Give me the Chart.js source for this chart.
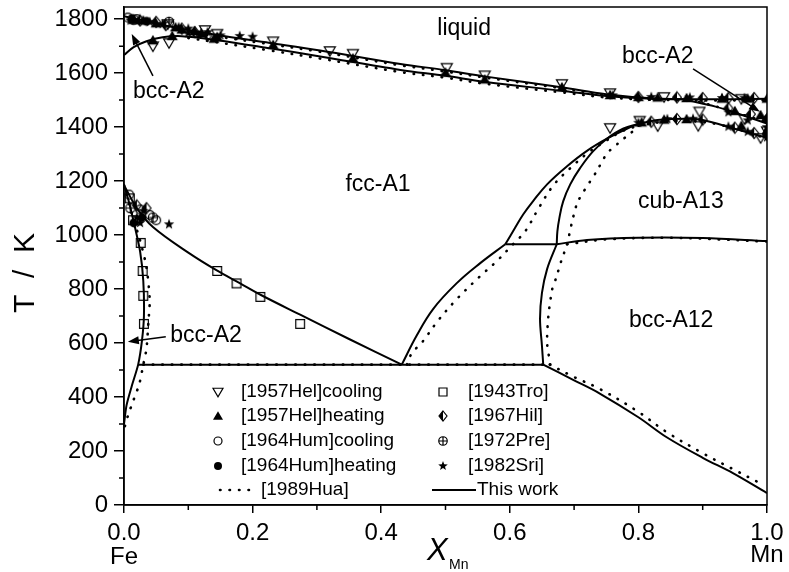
<!DOCTYPE html>
<html>
<head>
<meta charset="utf-8">
<title>Fe-Mn phase diagram</title>
<script src="https://cdn.jsdelivr.net/npm/chart.js"></script>
<style>
  html, body { margin: 0; padding: 0; background: #fff; }
</style>
</head>
<body>
<canvas id="phaseChart" width="789" height="572"></canvas>
<script>
// ---- values: [X_Mn, T / K] ----
const xTicks = [0, 0.2, 0.4, 0.6, 0.8, 1.0];
const xMinor = [0.1, 0.3, 0.5, 0.7, 0.9];
const tTicks = [0, 200, 400, 600, 800, 1000, 1200, 1400, 1600, 1800];
const tMinor = [100, 300, 500, 700, 900, 1100, 1300, 1500, 1700];

// "This work" (solid) boundaries
const liquidus = [[0,1811],[0.02,1800],[0.06,1778],[0.1,1760],[0.145,1741],[0.227,1712],[0.305,1684],[0.43,1634],[0.5,1611],[0.56,1588],[0.68,1548],[0.75,1522],[0.82,1507],[0.9,1503],[1.0,1505]];
const solidus = [[0,1667],[0.015,1696],[0.035,1718],[0.06,1733],[0.09,1737],[0.145,1722],[0.227,1692],[0.305,1662],[0.43,1612],[0.5,1590],[0.56,1568],[0.68,1535],[0.75,1515],[0.82,1505],[0.87,1503]];
const fccBcc = [[0.87,1503],[0.92,1476],[0.96,1446],[1.0,1413]];
const cubTop = [[0.80,1413],[0.834,1427],[0.876,1431],[0.9,1426],[0.947,1396],[1.0,1360]];
const cubLeft = [[0.593,966],[0.608,1026],[0.621,1077],[0.636,1125],[0.658,1188],[0.689,1255],[0.72,1312],[0.751,1357],[0.782,1394],[0.802,1413]];
const cubRight = [[0.673,966],[0.674,1014],[0.677,1062],[0.683,1125],[0.694,1188],[0.709,1247],[0.729,1309],[0.751,1357],[0.776,1394],[0.802,1413]];
const betaAlpha = [[0.673,966],[0.72,982],[0.8,990],[0.9,989],[1.0,978]];
const eutectoidHigh = [[0.593,966],[0.673,966]];
const fccSide = [[0.432,520],[0.455,627],[0.481,727],[0.518,823],[0.554,896],[0.593,966]];
const alphaMnSide = [[0.673,966],[0.658,874],[0.65,786],[0.647,690],[0.65,590],[0.652,520]];
const eutectoidLow = [[0.022,520],[0.652,520]];
const lowerRight = [[0.652,520],[0.70,462],[0.74,413],[0.80,325],[0.844,251],[0.90,175],[0.947,118],[1.0,44]];
const gammaFe = [[0,1185],[0.02,1100],[0.045,1030],[0.1,935],[0.145,868],[0.18,822],[0.213,778],[0.274,705],[0.35,615],[0.432,520]];
const alphaFe = [[0,1185],[0.008,1120],[0.015,1050],[0.025,940],[0.03,830],[0.031,700],[0.028,610],[0.022,520],[0.012,440],[0.004,370],[0,300]];

// [1989Hua] (dotted) boundaries
const huaLiquidus = [[0.1,1755],[0.145,1736],[0.227,1707],[0.305,1679],[0.43,1629],[0.5,1606],[0.56,1584],[0.68,1544],[0.75,1518],[0.82,1503],[0.9,1499],[1.0,1500]];
const huaSolidus = [[0.1,1730],[0.145,1714],[0.227,1684],[0.305,1654],[0.43,1604],[0.5,1583],[0.56,1561],[0.68,1529],[0.75,1510],[0.82,1501]];
const huaFccBcc = [[0.88,1503],[0.93,1470],[0.97,1440],[1.0,1418]];
const huaCubTop = [[0.80,1405],[0.84,1420],[0.88,1424],[0.92,1412],[0.96,1388],[1.0,1357]];
const huaFccSide = [[0.44,520],[0.448,564],[0.463,601],[0.488,682],[0.518,764],[0.554,848],[0.58,904],[0.605,966],[0.624,1014],[0.645,1100],[0.668,1185],[0.695,1250],[0.72,1302],[0.743,1339],[0.775,1385],[0.80,1405]];
const huaMnSide = [[0.663,520],[0.658,601],[0.66,700],[0.666,800],[0.672,841],[0.68,904],[0.689,966],[0.697,1051],[0.706,1125],[0.735,1236],[0.751,1302],[0.768,1339],[0.787,1376],[0.80,1400]];
const huaBetaAlpha = [[0.689,966],[0.75,984],[0.85,990],[1.0,976]];
const huaEutectoid = [[0.03,520],[0.662,520]];
const huaLowerRight = [[0.662,520],[0.70,474],[0.74,430],[0.80,345],[0.844,270],[0.90,192],[0.947,133],[0.986,85]];
const huaAlphaFe = [[0,1185],[0.012,1080],[0.025,980],[0.035,880],[0.04,760],[0.038,680],[0.035,580],[0.03,520],[0.024,450],[0.015,390],[0.006,330],[0,280]];

// experimental points
const hel57Cooling = [[0.068,1782],[0.126,1760],[0.045,1700],[0.07,1712],[0.145,1746],[0.232,1718],[0.32,1682],[0.356,1672],[0.502,1620],[0.561,1592],[0.681,1560],[0.756,1526],[0.756,1397],[0.802,1424],[0.84,1512],[0.895,1458],[0.893,1405],[0.83,1404],[0.96,1505],[0.965,1430],[1.0,1385],[0.99,1360]];
const hel57Heating = [[0.03,1795],[0.015,1798],[0.05,1785],[0.08,1770],[0.09,1762],[0.11,1756],[0.12,1748],[0.14,1728],[0.145,1735],[0.232,1705],[0.356,1655],[0.5,1603],[0.561,1577],[0.681,1548],[0.756,1519],[0.80,1512],[0.83,1510],[0.875,1508],[0.93,1506],[0.97,1506],[1.0,1506],[0.805,1418],[0.84,1428],[0.875,1430],[0.95,1460],[0.96,1405],[0.99,1445],[1.0,1390],[0.045,1722],[0.075,1738]];
const hum64Cooling = [[0.006,1806],[0.02,1800],[0.008,1150],[0.025,1095],[0.04,1075],[0.05,1055]];
const hum64Heating = [[0.012,1802],[0.035,1792],[0.015,1045],[0.028,1065]];
const tro43 = [[0.009,1136],[0.014,1055],[0.026,971],[0.029,867],[0.03,775],[0.031,671],[0.145,867],[0.175,821],[0.212,771],[0.274,671]];
const hil67 = [[0.02,1110],[0.035,1100],[0.025,1795],[0.05,1790],[0.065,1778],[0.09,1765],[0.11,1752],[0.13,1740],[0.8,1512],[0.86,1510],[0.9,1508],[0.94,1508],[0.98,1508],[0.82,1420],[0.86,1430],[0.9,1428],[0.95,1398],[0.98,1378],[1.0,1372],[0.94,1470],[0.975,1448],[1.0,1430]];
const pre72 = [[0.01,1100],[0.045,1065],[0.07,1790],[0.015,1798]];
const sri82 = [[0.02,1065],[0.03,1090],[0.07,1040],[0.025,1045],[0.01,1795],[0.04,1790],[0.06,1782],[0.085,1770],[0.1,1765],[0.13,1752],[0.1,1748],[0.15,1740],[0.18,1738],[0.2,1735],[0.76,1518],[0.82,1512],[0.88,1510],[0.93,1508],[0.965,1508],[0.8,1416],[0.845,1430],[0.885,1431],[0.94,1455],[0.97,1425],[1.0,1400],[0.94,1402],[0.97,1383],[1.0,1362]];

const FONT = '"Liberation Sans", Arial, sans-serif';

// marker glyphs, drawn once and reused as point images
function drawMarker(c, kind, x, y, s) {
    c.save();
    c.strokeStyle = '#000';
    c.fillStyle = '#000';
    c.lineWidth = 1.2;
    c.beginPath();
    if (kind === 'triDown') {
        c.moveTo(x - s, y - s * 0.75); c.lineTo(x + s, y - s * 0.75); c.lineTo(x, y + s * 0.95); c.closePath(); c.stroke();
    } else if (kind === 'triUp') {
        c.moveTo(x - s, y + s * 0.75); c.lineTo(x + s, y + s * 0.75); c.lineTo(x, y - s * 0.95); c.closePath(); c.fill();
    } else if (kind === 'circOpen') {
        c.arc(x, y, s * 0.8, 0, Math.PI * 2); c.stroke();
    } else if (kind === 'circFill') {
        c.arc(x, y, s * 0.8, 0, Math.PI * 2); c.fill();
    } else if (kind === 'square') {
        c.rect(x - s * 0.8, y - s * 0.8, s * 1.6, s * 1.6); c.stroke();
    } else if (kind === 'diamondHalf') {
        c.moveTo(x, y - s); c.lineTo(x + s * 0.8, y); c.lineTo(x, y + s); c.lineTo(x - s * 0.8, y); c.closePath(); c.stroke();
        c.beginPath(); c.moveTo(x, y - s); c.lineTo(x - s * 0.8, y); c.lineTo(x, y + s); c.closePath(); c.fill();
    } else if (kind === 'circPlus') {
        c.arc(x, y, s * 0.85, 0, Math.PI * 2);
        c.moveTo(x - s * 0.85, y); c.lineTo(x + s * 0.85, y);
        c.moveTo(x, y - s * 0.85); c.lineTo(x, y + s * 0.85);
        c.stroke();
    } else if (kind === 'star') {
        for (let i = 0; i < 10; i++) {
            const r = i % 2 === 0 ? s : s * 0.42;
            const a = -Math.PI / 2 + i * Math.PI / 5;
            const px = x + r * Math.cos(a), py = y + r * Math.sin(a);
            if (i === 0) c.moveTo(px, py); else c.lineTo(px, py);
        }
        c.closePath(); c.fill();
    }
    c.restore();
}

function markerImage(kind) {
    const cv = document.createElement('canvas');
    cv.width = 14; cv.height = 14;
    drawMarker(cv.getContext('2d'), kind, 7, 7, 5.5);
    return cv;
}

function pts(arr) {
    return arr.map(p => ({ x: p[0], y: p[1] }));
}

function pointSet(label, arr, kind) {
    return { label: label, data: pts(arr), pointStyle: markerImage(kind), pointRadius: 6, showLine: false, order: 0 };
}

function solid(arr, tension) {
    return { data: pts(arr), showLine: true, pointRadius: 0, borderColor: '#000', borderWidth: 2,
             tension: tension === undefined ? 0.35 : tension, fill: false, order: 2 };
}

function dotted(arr, tension) {
    return { data: pts(arr), showLine: true, pointRadius: 0, borderColor: '#000', borderWidth: 2.6,
             borderDash: [0.5, 9], borderCapStyle: 'round',
             tension: tension === undefined ? 0.35 : tension, fill: false, order: 1 };
}

const datasets = [
    pointSet('[1957Hel]cooling', hel57Cooling, 'triDown'),
    pointSet('[1957Hel]heating', hel57Heating, 'triUp'),
    pointSet('[1964Hum]cooling', hum64Cooling, 'circOpen'),
    pointSet('[1964Hum]heating', hum64Heating, 'circFill'),
    pointSet('[1943Tro]', tro43, 'square'),
    pointSet('[1967Hil]', hil67, 'diamondHalf'),
    pointSet('[1972Pre]', pre72, 'circPlus'),
    pointSet('[1982Sri]', sri82, 'star'),
    solid(liquidus), solid(solidus), solid(fccBcc), solid(cubTop),
    solid(cubLeft, 0.4), solid(cubRight, 0.4), solid(betaAlpha), solid(eutectoidHigh, 0),
    solid(fccSide, 0.4), solid(alphaMnSide), solid(eutectoidLow, 0), solid(lowerRight),
    solid(gammaFe), solid(alphaFe, 0.25),
    dotted(huaLiquidus), dotted(huaSolidus), dotted(huaFccBcc), dotted(huaCubTop),
    dotted(huaFccSide), dotted(huaMnSide, 0.25), dotted(huaBetaAlpha), dotted(huaEutectoid, 0),
    dotted(huaLowerRight), dotted(huaAlphaFe, 0.25)
];

function arrow(ctx, x1, y1, x2, y2) {
    const ang = Math.atan2(y2 - y1, x2 - x1);
    ctx.beginPath();
    ctx.moveTo(x1, y1);
    ctx.lineTo(x2 - 6 * Math.cos(ang), y2 - 6 * Math.sin(ang));
    ctx.stroke();
    ctx.beginPath();
    ctx.moveTo(x2, y2);
    ctx.lineTo(x2 - 11 * Math.cos(ang) + 4 * Math.sin(ang), y2 - 11 * Math.sin(ang) - 4 * Math.cos(ang));
    ctx.lineTo(x2 - 11 * Math.cos(ang) - 4 * Math.sin(ang), y2 - 11 * Math.sin(ang) + 4 * Math.cos(ang));
    ctx.closePath();
    ctx.fill();
}

// frame, minor ticks, titles, phase labels, arrows and legend
const decorPlugin = {
    id: 'decor',
    afterDraw(chart) {
        const ctx = chart.ctx, a = chart.chartArea;
        const xs = chart.scales.x, ys = chart.scales.y;
        const X = v => xs.getPixelForValue(v), Y = v => ys.getPixelForValue(v);
        ctx.save();
        ctx.strokeStyle = '#000';
        ctx.fillStyle = '#000';
        ctx.lineWidth = 1.5;
        ctx.strokeRect(a.left, a.top, a.right - a.left, a.bottom - a.top);

        ctx.beginPath();
        xMinor.forEach(v => { ctx.moveTo(X(v), a.bottom); ctx.lineTo(X(v), a.bottom + 5); });
        tMinor.forEach(v => { ctx.moveTo(a.left, Y(v)); ctx.lineTo(a.left - 5, Y(v)); });
        ctx.stroke();

        // axis titles
        ctx.textBaseline = 'middle';
        ctx.textAlign = 'center';
        ctx.save();
        ctx.translate(26, 273);
        ctx.rotate(-Math.PI / 2);
        ctx.font = '30px ' + FONT;
        ctx.fillText('T  /  K', 0, 0);
        ctx.restore();

        ctx.textAlign = 'left';
        ctx.textBaseline = 'alphabetic';
        ctx.font = 'italic 31px ' + FONT;
        ctx.fillText('X', 427, 560);
        ctx.font = '14px ' + FONT;
        ctx.fillText('Mn', 449, 569);

        ctx.textAlign = 'center';
        ctx.font = '24px ' + FONT;
        ctx.fillText('Fe', X(0), 564);
        ctx.fillText('Mn', X(1), 562);

        // phase labels
        ctx.font = '23px ' + FONT;
        ctx.textBaseline = 'middle';
        ctx.fillText('liquid', X(0.529), Y(1763));
        ctx.fillText('fcc-A1', X(0.395), Y(1188));
        ctx.fillText('cub-A13', X(0.866), Y(1125));
        ctx.fillText('bcc-A12', X(0.851), Y(682));
        ctx.fillText('bcc-A2', X(0.83), Y(1660));
        ctx.textAlign = 'left';
        ctx.fillText('bcc-A2', X(0.014), Y(1531));
        ctx.fillText('bcc-A2', X(0.072), Y(627));

        ctx.lineWidth = 1.5;
        arrow(ctx, X(0.045), Y(1590), X(0.012), Y(1745));
        arrow(ctx, X(0.885), Y(1616), X(0.989), Y(1457));
        arrow(ctx, X(0.065), Y(623), X(0.006), Y(605));

        // legend
        const rowsY = [392, 416, 441, 466, 490];
        ctx.font = '19px ' + FONT;
        ctx.textBaseline = 'middle';
        ctx.textAlign = 'left';
        const colA = datasets.slice(0, 4), colB = datasets.slice(4, 8);
        const kindsA = ['triDown', 'triUp', 'circOpen', 'circFill'];
        const kindsB = ['square', 'diamondHalf', 'circPlus', 'star'];
        colA.forEach((d, i) => {
            drawMarker(ctx, kindsA[i], 218, rowsY[i], 5);
            ctx.fillText(d.label, 241, rowsY[i]);
        });
        colB.forEach((d, i) => {
            drawMarker(ctx, kindsB[i], 443, rowsY[i], 5);
            ctx.fillText(d.label, 468, rowsY[i]);
        });
        ctx.save();
        ctx.lineWidth = 2.6;
        ctx.lineCap = 'round';
        ctx.setLineDash([0.5, 9]);
        ctx.beginPath(); ctx.moveTo(220, rowsY[4]); ctx.lineTo(258, rowsY[4]); ctx.stroke();
        ctx.restore();
        ctx.fillText('[1989Hua]', 261, rowsY[4]);
        ctx.lineWidth = 2;
        ctx.beginPath(); ctx.moveTo(432, rowsY[4]); ctx.lineTo(476, rowsY[4]); ctx.stroke();
        ctx.fillText('This work', 477, rowsY[4]);
        ctx.restore();
    }
};

const chart = new Chart(document.getElementById('phaseChart').getContext('2d'), {
    type: 'scatter',
    data: { datasets: datasets },
    options: {
        responsive: false,
        animation: false,
        events: [],
        layout: { padding: { top: 5, right: 22, left: 0, bottom: 0 } },
        plugins: { legend: { display: false }, tooltip: { enabled: false } },
        scales: {
            x: {
                type: 'linear', min: 0, max: 1,
                afterBuildTicks: s => { s.ticks = xTicks.map(v => ({ value: v })); },
                afterFit: s => { s.height = 67; s.paddingLeft = 0; s.paddingRight = 0; },
                ticks: { color: '#000', font: { family: FONT, size: 24 }, padding: 6,
                         maxRotation: 0, autoSkip: false, callback: v => v.toFixed(1) },
                grid: { drawOnChartArea: false, color: '#000', tickLength: 8, lineWidth: 1.5 },
                border: { color: '#000', width: 1.5 }
            },
            y: {
                type: 'linear', min: 0, max: 1845,
                afterBuildTicks: s => { s.ticks = tTicks.map(v => ({ value: v })); },
                afterFit: s => { s.width = 124; s.paddingTop = 0; s.paddingBottom = 0; },
                ticks: { color: '#000', font: { family: FONT, size: 24 }, padding: 6, autoSkip: false,
                         callback: v => String(v) },
                grid: { drawOnChartArea: false, color: '#000', tickLength: 10, lineWidth: 1.5 },
                border: { color: '#000', width: 1.5 }
            }
        }
    },
    plugins: [decorPlugin]
});
</script>
</body>
</html>
